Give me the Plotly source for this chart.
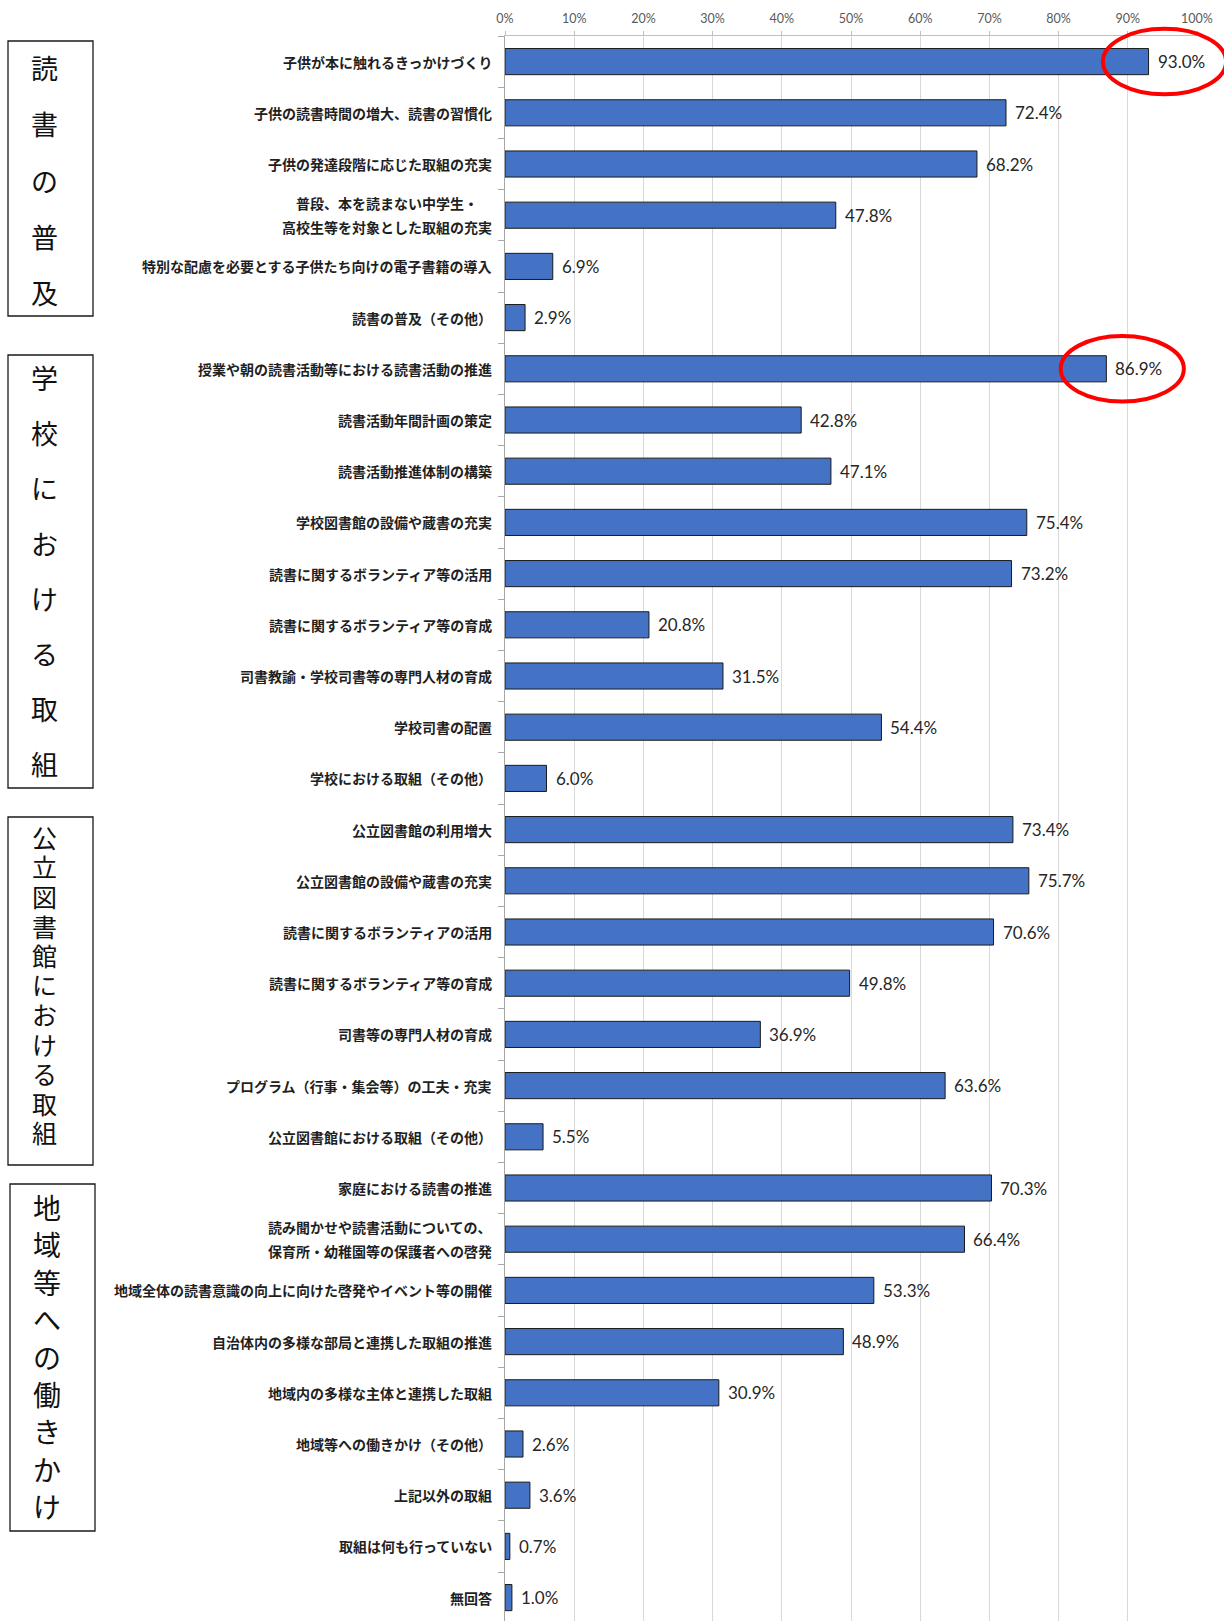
import plotly.graph_objects as go

# Survey items (top to bottom) and share of respondents (%)
labels = [
    "子供が本に触れるきっかけづくり",
    "子供の読書時間の増大、読書の習慣化",
    "子供の発達段階に応じた取組の充実",
    "普段、本を読まない中学生・<br>高校生等を対象とした取組の充実",
    "特別な配慮を必要とする子供たち向けの電子書籍の導入",
    "読書の普及（その他）",
    "授業や朝の読書活動等における読書活動の推進",
    "読書活動年間計画の策定",
    "読書活動推進体制の構築",
    "学校図書館の設備や蔵書の充実",
    "読書に関するボランティア等の活用",
    "読書に関するボランティア等の育成",
    "司書教諭・学校司書等の専門人材の育成",
    "学校司書の配置",
    "学校における取組（その他）",
    "公立図書館の利用増大",
    "公立図書館の設備や蔵書の充実",
    "読書に関するボランティアの活用",
    "読書に関するボランティア等の育成",
    "司書等の専門人材の育成",
    "プログラム（行事・集会等）の工夫・充実",
    "公立図書館における取組（その他）",
    "家庭における読書の推進",
    "読み聞かせや読書活動についての、<br>保育所・幼稚園等の保護者への啓発",
    "地域全体の読書意識の向上に向けた啓発やイベント等の開催",
    "自治体内の多様な部局と連携した取組の推進",
    "地域内の多様な主体と連携した取組",
    "地域等への働きかけ（その他）",
    "上記以外の取組",
    "取組は何も行っていない",
    "無回答",
]
values = [
    93.0, 72.4, 68.2, 47.8, 6.9, 2.9,
    86.9, 42.8, 47.1, 75.4, 73.2, 20.8, 31.5, 54.4, 6.0,
    73.4, 75.7, 70.6, 49.8, 36.9, 63.6, 5.5,
    70.3, 66.4, 53.3, 48.9, 30.9, 2.6, 3.6, 0.7, 1.0,
]
tick_values = [0, 10, 20, 30, 40, 50, 60, 70, 80, 90, 100]
tick_labels = ["0%", "10%", "20%", "30%", "40%", "50%", "60%", "70%", "80%", "90%", "100%"]

# Group headings shown in framed boxes at the left
groups = ["読書の普及", "学校における取組", "公立図書館における取組", "地域等への働きかけ"]
# Items whose value labels are circled
highlighted = [0, 6]

W, H = 1224, 1621
ML, MR, MT, MB = 505, 27, 36, 0
PLOT_W = W - ML - MR
PLOT_H = H - MT - MB
BAND = 51.2                       # pixel height of one category band
Y_TOP = -0.5
Y_BOT = Y_TOP + PLOT_H / BAND
X_MIN, X_MAX = 0, 100

def px_x(px):
    return (px - ML) / PLOT_W

def px_y(py):
    return 1 - (py - MT) / PLOT_H

def data_y(y):
    return 1 - (y - Y_TOP) / (Y_BOT - Y_TOP)

def data_x(x):
    return (x - X_MIN) / (X_MAX - X_MIN)

n = len(labels)
ys = list(range(n))

fig = go.Figure()
fig.add_trace(go.Bar(
    x=values, y=ys, orientation="h", width=0.51,
    marker=dict(color="#4472C4", line=dict(color="#1a1a1a", width=1)),
    hoverinfo="skip", showlegend=False,
))

annotations = []
shapes = []

JP = "Noto Sans CJK JP"
# compact line metrics for the tightly stacked heading; glyphs still come from the CJK font
JP_TIGHT = "Liberation Sans, Noto Sans CJK JP"
CHAR_W = 14.2

# Category labels, right-aligned against the axis; multi-line labels centred line by line
for i, lab in enumerate(labels):
    lines = lab.split("<br>")
    maxlen = max(len(s) for s in lines)
    k = len(lines)
    for j, line in enumerate(lines):
        annotations.append(dict(
            x=0, y=i, xref="x", yref="y", text=line, showarrow=False,
            xanchor="right", yanchor="middle",
            xshift=-11 - (maxlen - len(line)) * CHAR_W / 2,
            yshift=(k - 1) * 12 - j * 24,
            font=dict(family=JP, size=14, color="#1f1f1f", weight="bold"),
        ))

# Value labels at the end of each bar
for i, v in enumerate(values):
    annotations.append(dict(
        x=v, y=i, xref="x", yref="y", text=f"{v:.1f}%", showarrow=False,
        xanchor="left", yanchor="middle", xshift=7,
        font=dict(family="Lato", size=17, color="#262626"),
    ))

# Red ellipses around the highlighted value labels
for i in highlighted:
    v = values[i]
    shapes.append(dict(
        type="circle", xref="paper", yref="paper",
        x0=data_x(v - 6.6), x1=data_x(v + 11.2),
        y0=data_y(i - 0.64), y1=data_y(i + 0.64),
        line=dict(color="#FF0000", width=4),
    ))

# Group boxes with vertical headings
box_geom = [
    # left, right, top, bottom (px)
    (8, 93, 41, 316),
    (8, 93, 355, 788),
    (8, 93, 817, 1165),
    (10, 95, 1184, 1531),
]
# heading layout: centre x, first char y, char step, font size, font family
heading_geom = [
    (44, 67, 56.5, 27, JP),
    (44, 378, 55.0, 27, JP),
    (44, 839, 29.5, 25, JP_TIGHT),
    (46.5, 1207, 37.4, 28, JP),
]
for title, (l, r, t, btm), (cx, c0, step, fs, fam) in zip(groups, box_geom, heading_geom):
    shapes.append(dict(
        type="rect", xref="paper", yref="paper",
        x0=px_x(l), x1=px_x(r), y0=px_y(t), y1=px_y(btm),
        line=dict(color="#1a1a1a", width=1.3), fillcolor="rgba(0,0,0,0)",
    ))
    for k, ch in enumerate(title):
        annotations.append(dict(
            x=px_x(cx), y=px_y(c0 + k * step), xref="paper", yref="paper",
            text=ch, showarrow=False, xanchor="center", yanchor="middle",
            font=dict(family=fam, size=fs, color="#111111"),
        ))

fig.update_layout(
    width=W, height=H,
    margin=dict(l=ML, r=MR, t=MT, b=MB, pad=0),
    paper_bgcolor="white", plot_bgcolor="white",
    xaxis=dict(
        side="top", range=[X_MIN, X_MAX],
        tickvals=tick_values, ticktext=tick_labels,
        tickfont=dict(family="Lato", size=12.5, color="#595959"),
        ticklabelstandoff=3,
        showgrid=True, gridcolor="#d9d9d9", gridwidth=1,
        showline=True, linecolor="#bfbfbf", linewidth=1,
        ticks="outside", ticklen=4, tickcolor="#bfbfbf",
        zeroline=False, fixedrange=True,
    ),
    yaxis=dict(
        range=[Y_BOT, Y_TOP],
        tickvals=[i - 0.5 for i in range(n + 1)],
        showticklabels=False, showgrid=False, zeroline=False,
        showline=True, linecolor="#a6a6a6", linewidth=1,
        ticks="outside", ticklen=6, tickcolor="#a6a6a6",
        fixedrange=True,
    ),
    annotations=annotations,
    shapes=shapes,
)

fig.write_html("out.html")
